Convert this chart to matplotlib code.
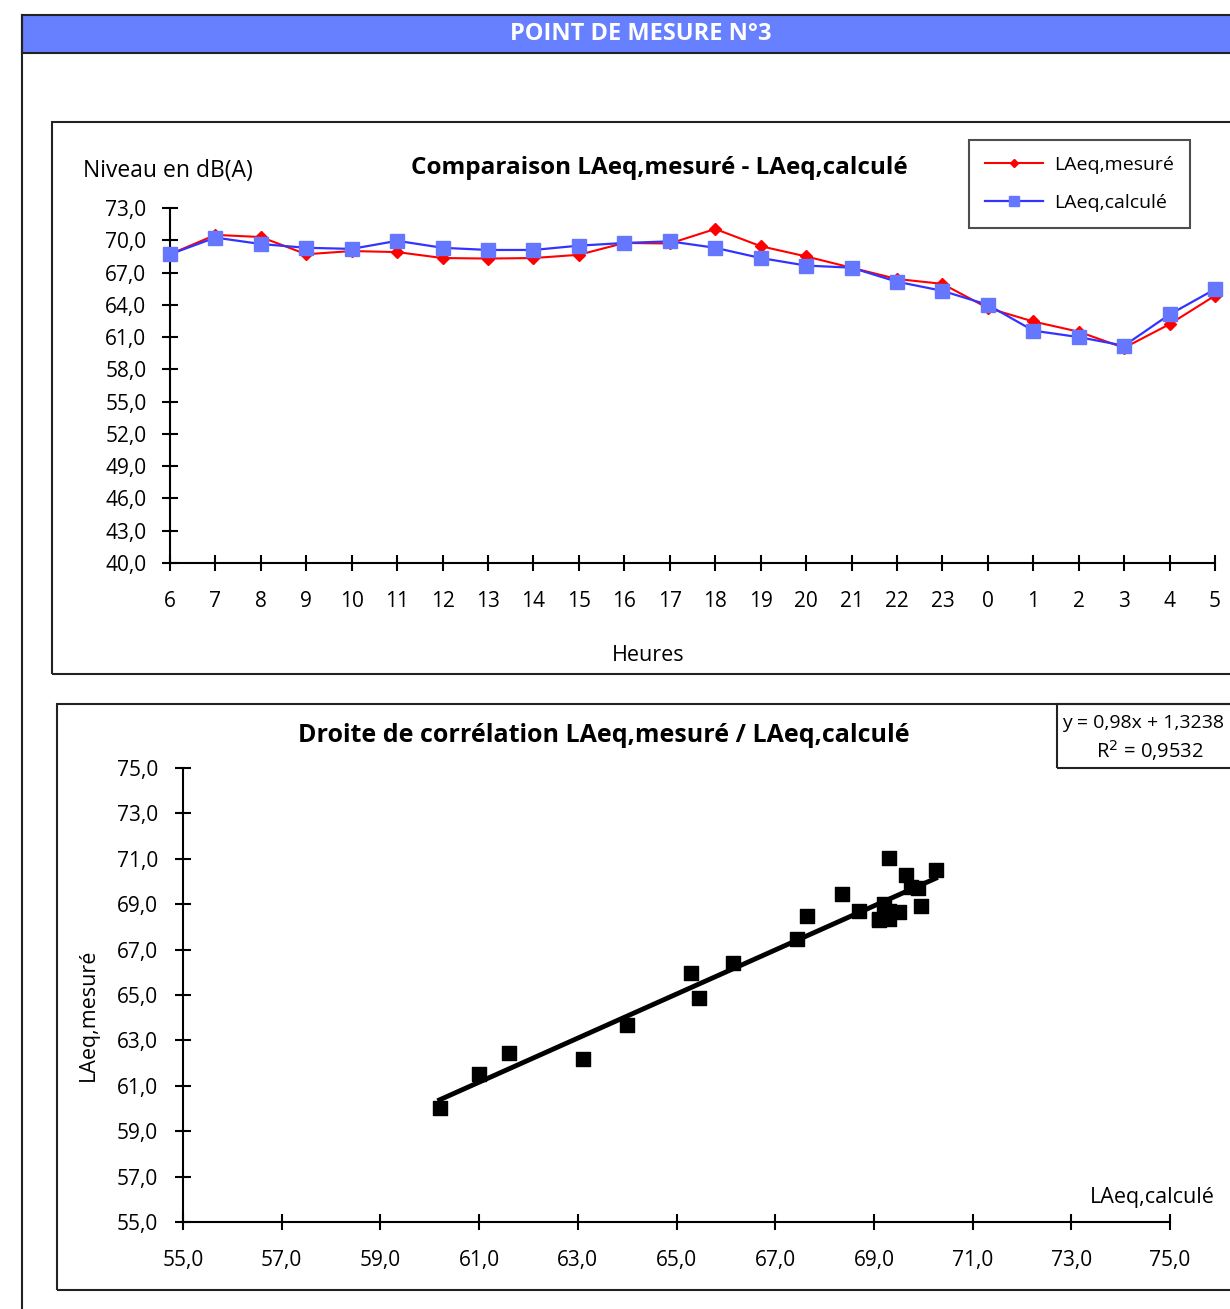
# Point de mesure n°3 : LAeq mesuré vs calculé
import numpy as np
import matplotlib.pyplot as plt
from matplotlib.patches import Rectangle

plt.rcParams['font.family'] = ['Open Sans', 'DejaVu Sans']

# Data
heures = ['6', '7', '8', '9', '10', '11', '12', '13', '14', '15', '16', '17',
          '18', '19', '20', '21', '22', '23', '0', '1', '2', '3', '4', '5']
laeq_mesure = [68.7, 70.5, 70.3, 68.7, 69.0, 68.9, 68.35, 68.3, 68.35, 68.65, 69.75, 69.7,
               71.05, 69.45, 68.5, 67.45, 66.4, 65.95, 63.7, 62.45, 61.5, 60.0, 62.2, 64.85]
laeq_calcule = [68.7, 70.25, 69.65, 69.3, 69.2, 69.95, 69.3, 69.1, 69.1, 69.5, 69.75, 69.9,
                69.3, 68.35, 67.65, 67.45, 66.15, 65.3, 64.0, 61.6, 61.0, 60.2, 63.1, 65.45]
y_ticks_top = np.arange(40, 73.1, 3)
ticks_bottom = np.arange(55, 75.1, 2)
equation = 'y = 0,98x + 1,3238'
r2 = 'R$^2$ = 0,9532'

W, H = 1230, 1309
fig = plt.figure(figsize=(W / 100, H / 100), dpi=100)


def box(x0, y0, x1, y1):
    # pixel box (top-left origin) -> figure fraction
    return [x0 / W, 1 - y1 / H, (x1 - x0) / W, (y1 - y0) / H]


def frame(x0, y0, x1, y1, fc='none', lw=1.5, ec='#222222'):
    fig.patches.append(Rectangle((x0 / W, 1 - y1 / H), (x1 - x0) / W, (y1 - y0) / H,
                                 transform=fig.transFigure, fc=fc, ec=ec, lw=lw))


def fmt(v):
    return f'{v:.1f}'.replace('.', ',')


# page frame and banner
fig.add_artist(plt.Line2D([22 / W, 22 / W], [0, 1 - 15 / H], color='#222222', lw=1.5,
                          transform=fig.transFigure))
frame(22, 15, 1240, 53, fc='#6680FF')
fig.text(641 / W, 1 - 34 / H, 'POINT DE MESURE N°3', color='white', fontsize=17,
         fontweight='bold', ha='center', va='center')

# chart frames
frame(52, 122, 1240, 674)
frame(57, 704, 1240, 1290)
frame(1057, 704, 1240, 768)

# ---- top chart: hourly levels ----
ax1 = fig.add_axes(box(170, 208, 1215, 563))
x = np.arange(len(heures))
ax1.plot(x, laeq_mesure, color='red', lw=1.5, marker='D', ms=6.5,
         mfc='red', mec='red', clip_on=False, label='LAeq,mesuré', zorder=3)
ax1.plot(x, laeq_calcule, color='#3333FF', lw=1.6, marker='s', ms=10,
         mfc='#6677FF', mec='#6677FF', clip_on=False, label='LAeq,calculé', zorder=4)
ax1.set_xlim(0, len(heures) - 1)
ax1.set_ylim(40, 73)
ax1.set_xticks(x)
ax1.set_xticklabels(heures)
ax1.set_yticks(y_ticks_top)
ax1.set_yticklabels([fmt(v) for v in y_ticks_top])
ax1.spines[['top', 'right']].set_visible(False)
for s in ['left', 'bottom']:
    ax1.spines[s].set_linewidth(1.5)
ax1.tick_params(direction='inout', length=12, width=1.5, labelsize=15)
ax1.tick_params(axis='y', pad=11)
ax1.tick_params(axis='x', pad=14)
ax1.patch.set_alpha(0)
fig.text(659 / W, 1 - 168 / H, 'Comparaison LAeq,mesuré - LAeq,calculé', fontsize=17.5,
         fontweight='bold', ha='center', va='center')
fig.text(83 / W, 1 - 171 / H, 'Niveau en dB(A)', fontsize=16.5, ha='left', va='center')
fig.text(648 / W, 1 - 655 / H, 'Heures', fontsize=15.5, ha='center', va='center')
leg = ax1.legend(loc='upper left', bbox_to_anchor=(969 / W, 1 - 140 / H),
                 bbox_transform=fig.transFigure, frameon=True, fancybox=False, fontsize=14,
                 handlelength=3.0, borderpad=0.8, labelspacing=1.05, markerscale=0.7,
                 borderaxespad=0, handletextpad=0.6)
leg.get_frame().set_edgecolor('#222222')
leg.get_frame().set_linewidth(1.5)

# ---- bottom chart: correlation ----
ax2 = fig.add_axes(box(183, 768, 1170, 1222))
ax2.scatter(laeq_calcule, laeq_mesure, marker='s', s=110, color='black', zorder=3)
pente, origine = np.polyfit(laeq_calcule, laeq_mesure, 1)
xs = np.array([min(laeq_calcule), max(laeq_calcule)])
ax2.plot(xs, pente * xs + origine, color='black', lw=3.5, zorder=2)
ax2.set_xlim(55, 75)
ax2.set_ylim(55, 75)
ax2.set_xticks(ticks_bottom)
ax2.set_xticklabels([fmt(v) for v in ticks_bottom])
ax2.set_yticks(ticks_bottom)
ax2.set_yticklabels([fmt(v) for v in ticks_bottom])
ax2.spines[['top', 'right']].set_visible(False)
for s in ['left', 'bottom']:
    ax2.spines[s].set_linewidth(1.5)
ax2.tick_params(direction='inout', length=12, width=1.5, labelsize=15)
ax2.tick_params(axis='y', pad=12)
ax2.tick_params(axis='x', pad=14)
ax2.patch.set_alpha(0)
fig.text(604 / W, 1 - 736 / H, 'Droite de corrélation LAeq,mesuré / LAeq,calculé',
         fontsize=18, fontweight='bold', ha='center', va='center')
fig.text(88 / W, 1 - 1015 / H, 'LAeq,mesuré', fontsize=15.5, rotation=90,
         ha='center', va='center')
fig.text(1215 / W, 1 - 1197 / H, 'LAeq,calculé', fontsize=15.5, ha='right', va='center')
fig.text(1062 / W, 1 - 723 / H, equation, fontsize=14, ha='left', va='center')
fig.text(1150 / W, 1 - 751 / H, r2, fontsize=14.5, ha='center', va='center')

fig.savefig('out.png', dpi=100)
